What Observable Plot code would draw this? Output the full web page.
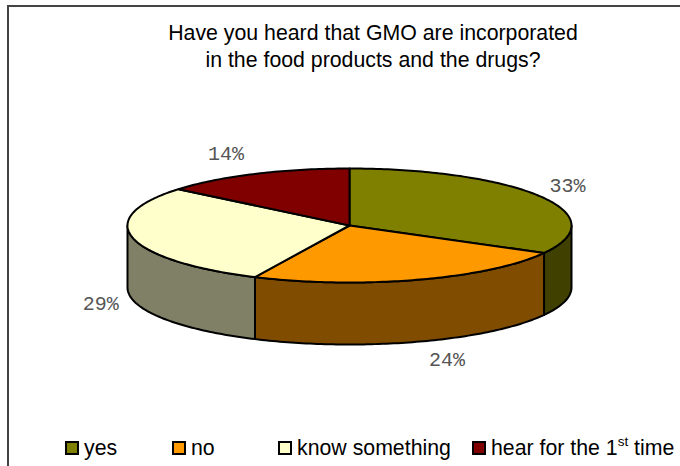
<!DOCTYPE html>
<html>
<head>
<meta charset="utf-8">
<script src="https://cdn.jsdelivr.net/npm/d3@7"></script>
<script src="https://cdn.jsdelivr.net/npm/@observablehq/plot@0.6"></script>
<style>
  html, body { margin: 0; padding: 0; background: #fff; }
  #chart { position: relative; width: 680px; height: 466px; overflow: hidden; font-family: "Liberation Sans", Arial, sans-serif; color: #000; }
  #chart svg { position: absolute; left: 0; top: 0; display: block; }
  #frame { position: absolute; left: 7px; top: 5px; right: -4px; bottom: -4px; border: 2px solid #444; }
  #title { position: absolute; left: 73px; width: 600px; top: 20px; text-align: center; font-size: 21.3px; line-height: 27px; }
  #legend { position: absolute; left: 65px; top: 435px; display: flex; font-size: 21.3px; line-height: 26px; white-space: nowrap; }
  .item { display: flex; align-items: center; }
  .swatch { width: 10px; height: 10px; border: 2px solid #000; margin-right: 5px; flex: none; }
  sup { font-size: 13.5px; line-height: 0; vertical-align: 9px; }
</style>
</head>
<body>
<div id="chart">
  <div id="frame"></div>
  <div id="title">Have you heard that GMO are incorporated<br>in the food products and the drugs?</div>
  <div id="legend"></div>
</div>
<script>
// Survey answers, in the order they run clockwise from twelve o'clock
const categories = ["yes", "no", "know something", "hear for the 1st time"];
const shares = [33, 24, 29, 14];
const topColors = ["#808000", "#ff9900", "#ffffcc", "#800000"];
const sideColors = ["#404000", "#804c00", "#808066", "#400000"];
const labelShiftX = [27, 29, -32, -29];
const labelShiftY = [-11, 80, 66, -20];
const legendWidths = [107, 106, 194, 200];

// Tilted disc: ellipse centre, radii and wall height
const cx = 349, cy = 225, rx = 222, ry = 57, depth = 62;
const rad = Math.PI / 180;

const rim = (a, drop = 0) => ({x: cx + rx * Math.sin(a), y: cy - ry * Math.cos(a) + drop});
function arc(a0, a1, drop = 0) {
  const n = Math.max(1, Math.ceil(Math.abs(a1 - a0) / rad));
  return d3.range(n + 1).map((i) => rim(a0 + (a1 - a0) * i / n, drop));
}

const arcs = d3.pie().sort(null)(shares);

// Top faces: centre, outer arc, back to the centre
const tops = arcs.flatMap((s, i) =>
  [{x: cx, y: cy}, ...arc(s.startAngle, s.endAngle), {x: cx, y: cy}]
    .map((p) => ({...p, id: categories[i], color: topColors[i]})));

// Walls: only the front half of the rim (quarter turn to three-quarter turn) is visible
const walls = arcs.flatMap((s, i) => {
  const a0 = Math.max(s.startAngle, Math.PI / 2);
  const a1 = Math.min(s.endAngle, Math.PI * 3 / 2);
  if (a1 <= a0) return [];
  const outline = [...arc(a0, a1), ...arc(a1, a0, depth)];
  return [...outline, outline[0]].map((p) => ({...p, id: categories[i], color: sideColors[i]}));
});

const labels = arcs.map((s, i) => {
  const p = rim((s.startAngle + s.endAngle) / 2);
  return {x: p.x + labelShiftX[i], y: p.y + labelShiftY[i], text: `${shares[i]}%`};
});

const face = {x: "x", y: "y", z: "id", fill: "color", stroke: "#000", strokeWidth: 2, strokeLinejoin: "round"};

const plot = Plot.plot({
  width: 680,
  height: 466,
  margin: 0,
  x: {axis: null, domain: [0, 680], range: [0, 680]},
  y: {axis: null, domain: [0, 466], range: [0, 466]},
  color: {type: "identity"},
  style: {background: "transparent"},
  marks: [
    Plot.line(walls, face),
    Plot.line(tops, face),
    Plot.text(labels, {
      x: "x", y: "y", text: "text",
      fontFamily: "'Liberation Mono', monospace",
      fontSize: 20, fill: "#555"
    })
  ]
});
document.getElementById("chart").appendChild(plot);

// Legend row along the bottom of the frame
const legend = d3.select("#legend");
categories.forEach((name, i) => {
  const item = legend.append("div").attr("class", "item").style("width", legendWidths[i] + "px");
  item.append("span").attr("class", "swatch").style("background", topColors[i]);
  item.append("span").html(name.replace("1st", "1<sup>st</sup>"));
});
</script>
</body>
</html>
